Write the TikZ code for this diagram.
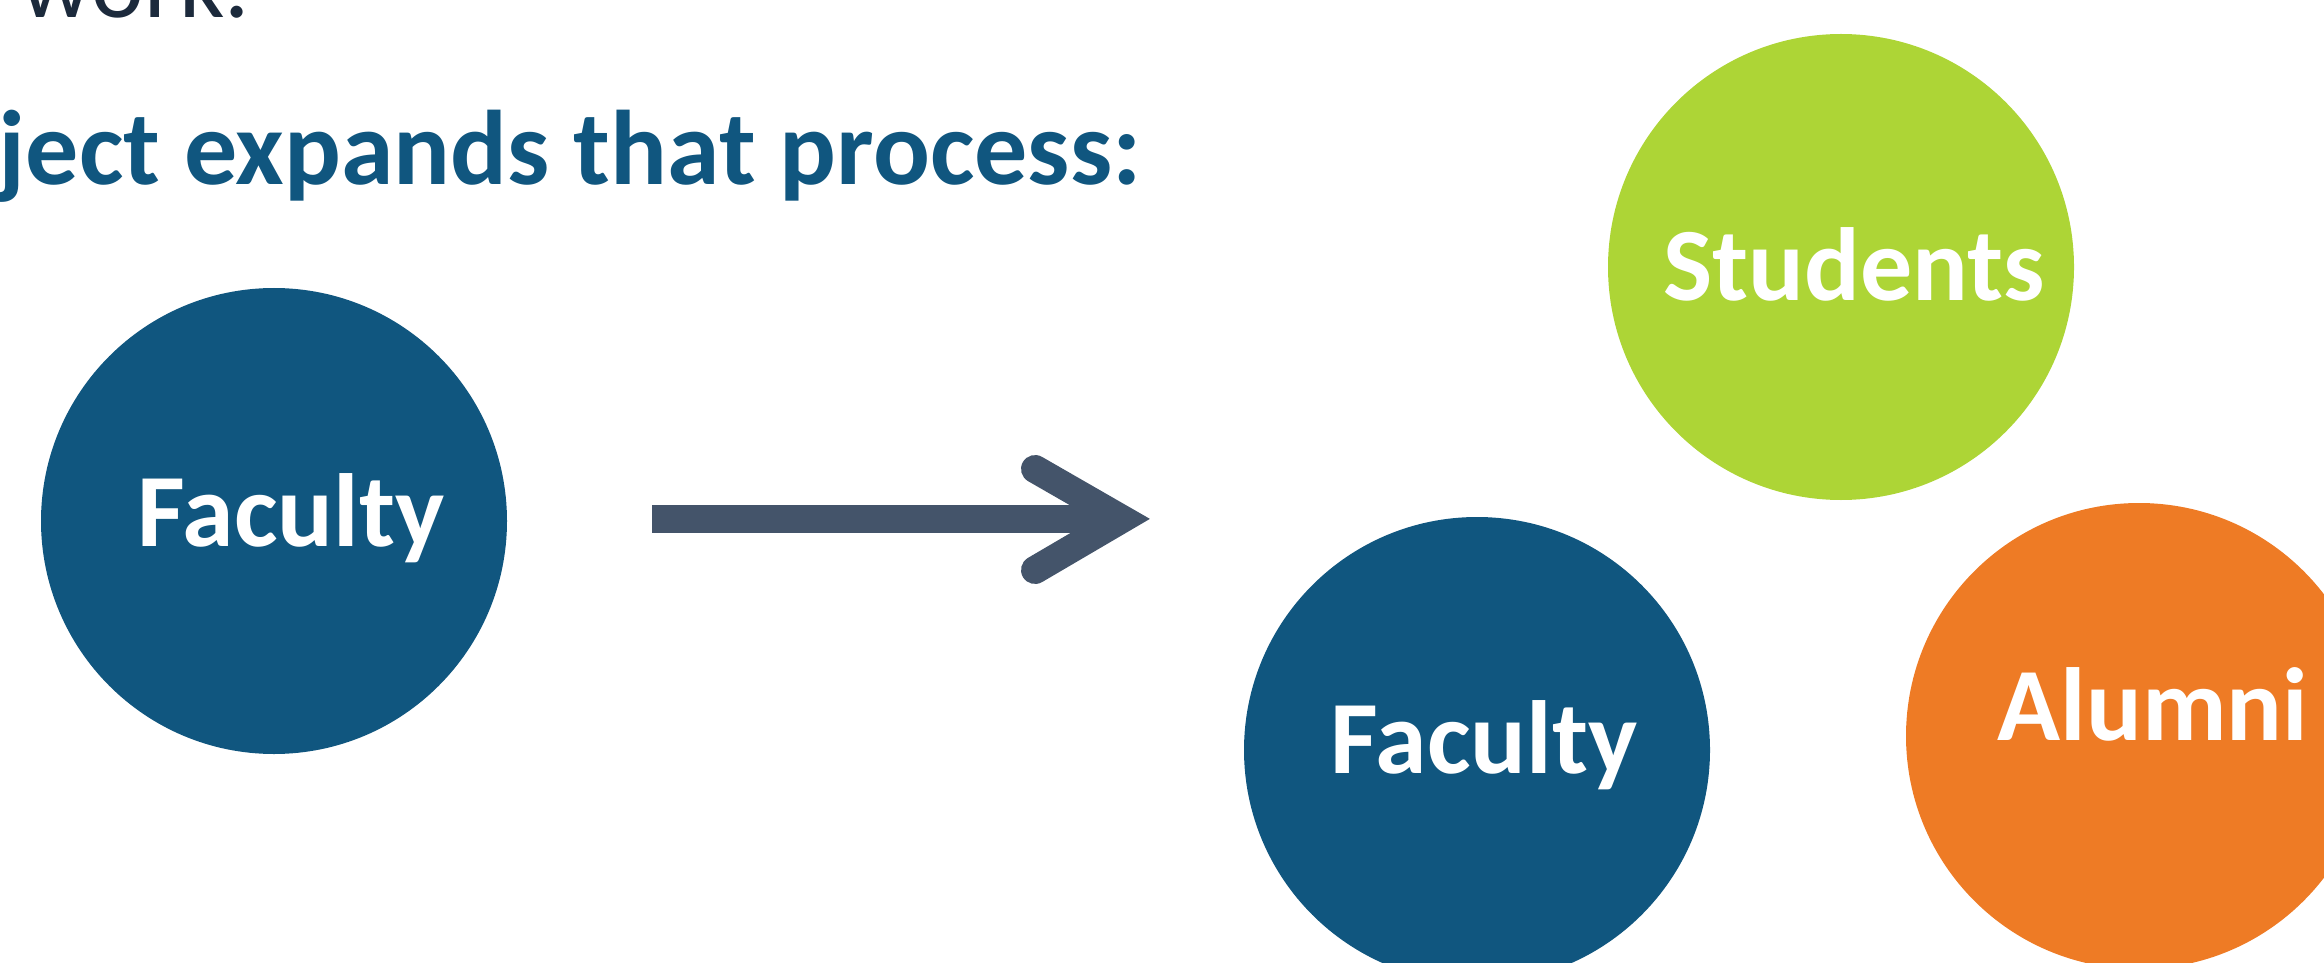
\documentclass[tikz,border=0pt]{standalone}
\usepackage{fontspec}
\setmainfont{Carlito}
\usetikzlibrary{shapes,calc}
\definecolor{facblue}{HTML}{10567F}
\definecolor{stugreen}{HTML}{ADD536}
\definecolor{alumorange}{HTML}{EE7B25}
\definecolor{arrowgray}{HTML}{44546A}
\definecolor{workgray}{HTML}{1C2A3C}

\begin{document}
\begin{tikzpicture}[x=0.25pt,y=-0.25pt,
	disc/.style={circle,inner sep=0pt,minimum size=116.5pt},
	lbl/.style={anchor=base,inner sep=0pt,text=white,font=\fontsize{26}{30}\selectfont\bfseries}]
\clip (0,0) rectangle (2324,963);
%heading
\path (20,18) node[anchor=base west,inner sep=0pt,text=workgray,font=\fontsize{25}{30}\selectfont] (work) {work.};
\path (-2,185) node[anchor=base west,inner sep=0pt,text=facblue,font=\fontsize{26.5}{30}\selectfont\bfseries] (heading) {ject expands that process:};
%before
\path (274,521) node[disc,fill=facblue] (faculty) {};
\path (291,546) node[lbl] (facultylbl) {Faculty};
%arrow
\coordinate (shaftstart) at (652,519);
\coordinate (tip) at (1122,519);
\draw[arrowgray,line width=7pt] (shaftstart) -- (tip);
\draw[arrowgray,line width=7pt,line cap=round,miter limit=10] ($(tip)+(-87,-50)$) -- (tip) -- ($(tip)+(-87,51)$);
%after
\path (1841,267) node[disc,fill=stugreen] (students) {}
	(1854,300) node[lbl] (studentslbl) {Students};
\path (1477,750) node[disc,fill=facblue] (facultyb) {}
	(1484,773) node[lbl] (facultyblbl) {Faculty};
\path (2139,736) node[disc,fill=alumorange] (alumni) {}
	(2153,740) node[lbl] (alumnilbl) {Alumni};
\end{tikzpicture}
\end{document}
